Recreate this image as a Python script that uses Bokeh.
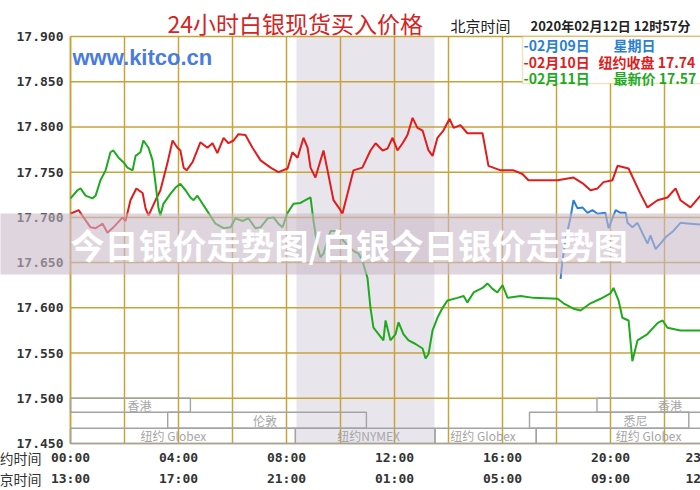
from bokeh.plotting import figure
from bokeh.models import Range1d, BoxAnnotation, Label
from bokeh.core.properties import value
from bokeh.embed import file_html
from bokeh.resources import INLINE

# ---------------- data ----------------
# hours after 00:00 New York time, silver bid in USD/oz
red_hours = [0.00,0.30,0.44,0.74,0.93,1.19,1.37,1.59,1.93,2.04,2.22,2.44,2.67,2.78,2.89,3.15,3.33,3.59,3.78,3.96,
             4.07,4.19,4.30,4.52,4.81,5.07,5.26,5.44,5.67,5.85,6.04,6.22,6.48,6.74,7.04,7.41,7.70,8.04,8.22,8.41,
             8.63,8.78,8.89,9.07,9.37,9.52,9.74,10.00,10.07,10.26,10.48,10.81,11.11,11.30,11.56,11.74,11.93,12.11,
             12.30,12.48,12.67,12.85,13.04,13.26,13.41,13.59,13.81,14.04,14.19,14.44,14.70,15.26,15.48,15.93,16.41,
             16.74,16.96,18.04,18.63,19.00,19.26,19.52,19.74,20.07,20.26,20.67,21.11,21.37,21.74,22.11,22.41,22.59,
             22.96,23.33]
red_values = [17.704,17.708,17.702,17.689,17.688,17.693,17.683,17.689,17.700,17.696,17.719,17.732,17.727,17.710,
              17.702,17.719,17.730,17.760,17.785,17.777,17.774,17.755,17.752,17.761,17.783,17.777,17.782,17.771,
              17.788,17.782,17.785,17.792,17.791,17.777,17.763,17.755,17.750,17.754,17.772,17.766,17.788,17.777,
              17.755,17.744,17.774,17.752,17.719,17.708,17.704,17.726,17.752,17.755,17.774,17.782,17.774,17.776,
              17.788,17.774,17.782,17.791,17.810,17.799,17.796,17.774,17.768,17.788,17.796,17.809,17.799,17.802,
              17.793,17.793,17.757,17.752,17.752,17.748,17.741,17.741,17.744,17.737,17.730,17.732,17.739,17.741,
              17.757,17.754,17.726,17.711,17.719,17.722,17.732,17.719,17.711,17.724]

green_hours = [0.00,0.26,0.37,0.56,0.81,0.93,1.11,1.30,1.48,1.59,1.78,1.96,2.11,2.30,2.41,2.59,2.70,2.89,3.04,3.15,
               3.26,3.33,3.44,3.70,3.89,4.07,4.26,4.44,4.56,4.70,4.89,5.11,5.37,5.67,5.93,6.11,6.37,6.59,6.85,7.04,
               7.30,7.52,7.70,7.85,8.04,8.26,8.52,8.70,8.89,9.00,9.15,9.26,9.37,9.63,9.89,10.11,10.48,10.67,10.81,
               11.00,11.11,11.22,11.41,11.59,11.67,11.85,12.04,12.15,12.33,12.52,12.78,13.04,13.15,13.26,13.41,
               13.59,13.78,13.96,14.33,14.56,14.70,14.93,15.26,15.44,15.63,15.81,16.00,16.19,16.67,17.15,18.04,
               18.26,18.63,18.89,19.26,19.63,20.00,20.11,20.30,20.44,20.67,20.81,21.00,21.37,21.74,21.93,22.11,
               22.59,23.33]
green_values = [17.721,17.730,17.732,17.724,17.721,17.724,17.741,17.752,17.772,17.774,17.766,17.761,17.755,17.752,
                17.768,17.772,17.785,17.777,17.763,17.737,17.710,17.702,17.715,17.726,17.733,17.737,17.730,17.722,
                17.719,17.724,17.715,17.705,17.693,17.688,17.689,17.699,17.696,17.699,17.688,17.689,17.699,17.700,
                17.693,17.689,17.705,17.715,17.716,17.719,17.722,17.696,17.667,17.656,17.660,17.685,17.685,17.674,
                17.663,17.660,17.652,17.633,17.600,17.578,17.571,17.564,17.586,17.564,17.571,17.584,17.571,17.564,
                17.560,17.555,17.544,17.549,17.575,17.589,17.600,17.608,17.611,17.613,17.606,17.617,17.622,17.627,
                17.621,17.617,17.625,17.611,17.613,17.611,17.610,17.605,17.599,17.597,17.605,17.610,17.616,17.622,
                17.608,17.589,17.586,17.541,17.564,17.571,17.583,17.586,17.578,17.575,17.575]

blue_hours = [18.15,18.22,18.33,18.52,18.63,18.78,18.96,19.15,19.33,19.52,19.81,19.93,20.07,20.19,20.37,20.56,
              20.63,20.81,21.00,21.19,21.37,21.48,21.67,21.85,22.04,22.33,22.59,22.96,23.33]
blue_values = [17.632,17.652,17.674,17.700,17.719,17.710,17.711,17.705,17.708,17.704,17.705,17.688,17.699,17.708,
               17.705,17.705,17.694,17.689,17.694,17.682,17.671,17.680,17.665,17.671,17.678,17.685,17.694,17.693,
               17.692]

y_ticks = [17.45, 17.50, 17.55, 17.60, 17.65, 17.70, 17.75, 17.80, 17.85, 17.90]
grid_hours = [0, 2, 4, 6, 8, 10, 12, 14, 16, 18, 20, 22]
tick_hours = [0, 4, 8, 12, 16, 20, 23.5]
ny_labels = ["00:00", "04:00", "08:00", "12:00", "16:00", "20:00", "23:30"]
bj_labels = ["13:00", "17:00", "21:00", "01:00", "05:00", "09:00", "12:30"]
row_captions = ["纽约时间", "北京时间"]

nymex_open, nymex_close = 8.37, 13.48

session_names = ["香港", "伦敦", "纽约 Globex", "纽约NYMEX", "纽约 Globex", "悉尼", "香港", "纽约 Globex"]
session_start = [0.0, 3.60, 0.0, 8.33, 13.50, 17.00, 19.50, 17.25]
session_end = [4.44, 10.96, 8.33, 13.50, 17.25, 22.90, 25.0, 25.0]
session_row = [0, 1, 2, 2, 2, 1, 0, 2]
session_label_hour = [2.56, 7.20, 3.81, 11.04, 15.28, 20.93, 22.20, 21.41]
row_top = [17.500, 17.4845, 17.4668]
row_bottom = [17.4845, 17.4668, 17.450]

legend_dates = ["-02月09日", "-02月10日", "-02月11日"]
legend_notes = ["星期日", "纽约收盘 17.74", "最新价 17.57"]

# ---------------- styling / layout ----------------
GOLD = "#c9a23c"
RED, GREEN, BLUE = "#e21c1c", "#1eaa1e", "#2a7fd6"
CJK = "Noto Sans CJK SC"
MONO = "DejaVu Sans Mono"

W, H = 700, 490
X0, PX_H = 70.0, 27.0          # pixel of 00:00, pixels per hour
Y0, PX_V = 36.0, 904.4         # pixel of 17.900, pixels per 1.0 USD
V_TOP, V_BOT = 17.90, 17.45


def hx(px):
    return (px - X0) / PX_H


def vy(py):
    return V_TOP - (py - Y0) / PX_V


X_END = hx(W)

p = figure(width=W, height=H, output_backend="svg", toolbar_location=None,
           x_range=Range1d(hx(0), hx(W)), y_range=Range1d(vy(H), vy(0)),
           x_axis_location=None, y_axis_location=None, min_border=0,
           background_fill_color="white", border_fill_color="white")
p.title.visible = False
p.outline_line_color = None
p.grid.visible = False

# NYMEX trading hours shading
p.quad(left=[nymex_open], right=[nymex_close], bottom=[V_BOT], top=[V_TOP],
       fill_color="#e8e6ec", line_color=None)

# grid
p.segment(x0=grid_hours, y0=[V_BOT] * len(grid_hours), x1=grid_hours, y1=[V_TOP] * len(grid_hours),
          line_color=GOLD, line_width=1.5)
p.segment(x0=[0] * len(y_ticks), y0=y_ticks, x1=[X_END + 1] * len(y_ticks), y1=y_ticks,
          line_color=GOLD, line_width=1.5)
p.segment(x0=[0], y0=[V_BOT], x1=[0], y1=[V_TOP], line_color=GOLD, line_width=1.6)

# y tick labels
p.text(x=[hx(63)] * len(y_ticks), y=y_ticks, text=[f"{v:.3f}" for v in y_ticks],
       text_font=value(MONO), text_font_style="bold", text_font_size="13px", text_color="#333333",
       text_align="right", text_baseline="middle")

# x tick labels (New York / Beijing)
for labels, ypx in ((ny_labels, 457), (bj_labels, 478)):
    p.text(x=tick_hours, y=[vy(ypx)] * len(tick_hours), text=labels,
           text_font=value(MONO), text_font_style="bold", text_font_size="13px", text_color="#333333",
           text_align="center", text_baseline="middle")
p.text(x=[hx(41)] * 2, y=[vy(457), vy(478)], text=row_captions, text_font=value(CJK),
       text_font_size="14px", text_color="#333333", text_align="right", text_baseline="middle")

# session bars
for name, s, e, r, lh in zip(session_names, session_start, session_end, session_row, session_label_hour):
    p.quad(left=[s], right=[e], top=[row_top[r]], bottom=[row_bottom[r]], fill_alpha=0,
           line_color="#a3a3a3", line_width=1.4)
p.text(x=session_label_hour, y=[(row_top[r] + row_bottom[r]) / 2 for r in session_row], text=session_names,
       text_font=value(CJK), text_font_size="12px", text_color="#a6a6a6", text_align="center",
       text_baseline="middle")

# price lines
p.line(red_hours, red_values, line_color=RED, line_width=2)
p.line(green_hours, green_values, line_color=GREEN, line_width=2)
p.line(blue_hours, blue_values, line_color=BLUE, line_width=2)


def add_text(x_px, y_px, text, size, color, font=CJK, style="normal", align="left", level="annotation"):
    p.add_layout(Label(x=hx(x_px), y=vy(y_px), text=text, text_font=font, text_font_size=f"{size}px",
                       text_color=color, text_font_style=style, text_align=align,
                       text_baseline="middle", level=level))


# header texts
add_text(167, 22, "24小时白银现货买入价格", 23, "#d42424")
add_text(450, 25, "北京时间", 15, "#222222")
add_text(530, 25, "2020年02月12日 12时57分", 13, "#222222", style="bold")
add_text(72, 57, "www.kitco.cn", 22, "#4a7be0", font="Liberation Sans", style="bold")

# legend box
p.add_layout(BoxAnnotation(left=hx(522), right=hx(760), top=V_TOP, bottom=vy(83),
                           fill_color="white", fill_alpha=1.0, line_color=GOLD, line_width=1.5))
leg_colors = [BLUE, RED, GREEN]
leg_rows = [44, 61, 77]
leg_note_x = [613, 598, 613]
for d, n, c, yy, nx in zip(legend_dates, legend_notes, leg_colors, leg_rows, leg_note_x):
    add_text(523, yy, d, 14, c, style="bold")
    add_text(nx, yy, n, 14, c, style="bold")

# watermark band
p.add_layout(BoxAnnotation(left=hx(-10), right=hx(720), top=vy(213), bottom=vy(274),
                           fill_color="#c9b9c9", fill_alpha=0.6, line_color=None, level="overlay"))
add_text(70, 244, "今日银价走势图/白银今日银价走势图", 34, "white", style="bold", level="overlay")

open("out.html", "w").write(file_html(p, INLINE))
